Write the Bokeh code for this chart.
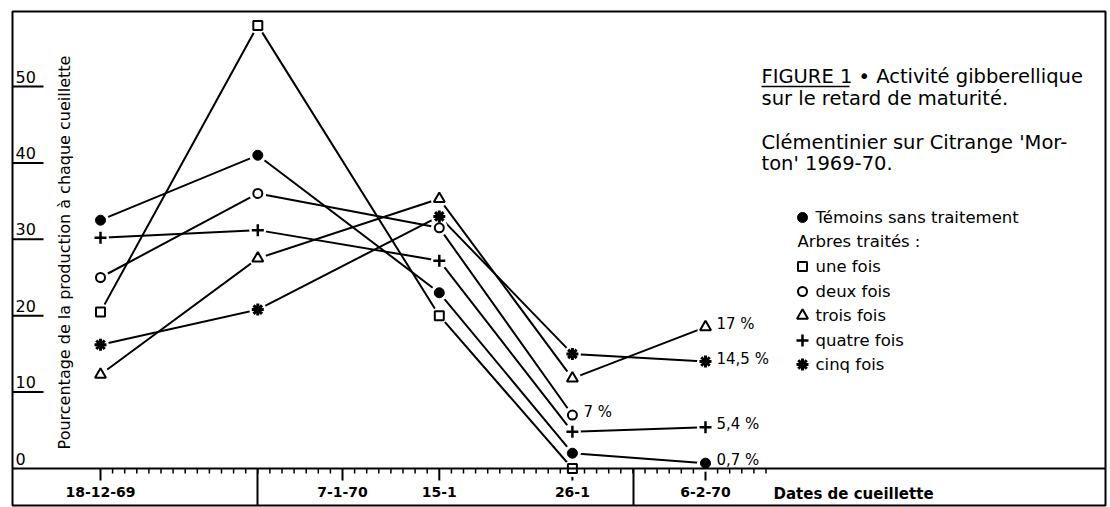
import math
from bokeh.plotting import figure
from bokeh.models import Span
from bokeh.core.properties import value
from bokeh.embed import file_html
from bokeh.resources import INLINE

# ---------------- data ----------------
pick_days = [0, 13, 28, 39, 50]          # days after 18-12-69
tick_days = [0, 20, 28, 39, 50]
tick_labels = ["18-12-69", "7-1-70", "15-1", "26-1", "6-2-70"]
y_ticks = [0, 10, 20, 30, 40, 50]
y_tick_labels = ["0", "10", "20", "30", "40", "50"]

temoins = [32.5, 41.0, 23.0, 2.0, 0.7]
une_fois = [20.5, 58.0, 20.0, 0.0]
deux_fois = [25.0, 36.0, 31.5, 7.0]
trois_fois = [12.3, 27.5, 35.3, 11.8, 18.5]
quatre_fois = [30.2, 31.2, 27.2, 4.8, 5.4]
cinq_fois = [16.2, 20.8, 33.0, 15.0, 14.0]

series_names = ["Témoins sans traitement", "une fois", "deux fois",
                "trois fois", "quatre fois", "cinq fois"]
end_labels = ["0,7 %", None, "7 %", "17 %", "5,4 %", "14,5 %"]

# ---------------- layout helpers (screen px -> data) ----------------
W, H = 1110, 507
L, R, T, B = 12, 1105, 11, 505
X0PX, PXD = 100.0, 12.1
Y0PX, PXU = 468.0, 7.64


def px2x(px):
    return (px - X0PX) / PXD


def px2y(py):
    return (Y0PX - py) / PXU


FONT = value("DejaVu Sans")

p = figure(width=W, height=H, title=None,
           x_range=(px2x(L), px2x(R)), y_range=(px2y(B), px2y(T)),
           x_axis_type=None, y_axis_type=None,
           toolbar_location=None, output_backend="svg",
           min_border_left=L, min_border_right=W - R,
           min_border_top=T, min_border_bottom=H - B)
p.outline_line_color = "black"
p.outline_line_width = 2
p.background_fill_color = "white"
p.border_fill_color = "white"

# ---------------- axes (hand drawn) ----------------
p.add_layout(Span(location=0, dimension="width", line_color="black", line_width=2))

# y ticks: short lines from the left edge, label above
yt = [v for v in y_ticks if v > 0]
p.ray(x=[px2x(L)] * len(yt), y=yt, length=31, length_units="screen", angle=0,
      line_color="black", line_width=2)
p.text(x=[px2x(15)] * len(y_ticks), y=y_ticks, text=y_tick_labels,
       text_font=FONT, text_font_size="16px", text_align="left",
       text_baseline="middle", y_offset=-10, text_color="black")

# x ticks
minor = [d for d in range(0, 56) if d not in tick_days]
p.ray(x=minor, y=[0] * len(minor), length=5, length_units="screen",
      angle=-math.pi / 2, line_color="black", line_width=1.5)
p.ray(x=tick_days, y=[0] * len(tick_days), length=12, length_units="screen",
      angle=-math.pi / 2, line_color="black", line_width=2)
p.text(x=tick_days, y=[0] * len(tick_days), text=tick_labels,
       text_font=FONT, text_font_size="14px", text_font_style="bold",
       text_align="center", text_baseline="middle", y_offset=23,
       text_color="black")
# separators of the date row
sep = [px2x(257), px2x(633)]
p.ray(x=sep, y=[0, 0], length=40, length_units="screen", angle=-math.pi / 2,
      line_color="black", line_width=2)
p.text(x=[px2x(773)], y=[0], text=["Dates de cueillette"], text_font=FONT,
       text_font_size="15px", text_font_style="bold", text_align="left",
       text_baseline="middle", y_offset=25, text_color="black")

# y axis title
p.text(x=[px2x(64)], y=[px2y(252)],
       text=["Pourcentage de la production à chaque cueillette"],
       angle=math.pi / 2, text_font=FONT, text_font_size="16px",
       text_align="center", text_baseline="middle", text_color="black")

# ---------------- series ----------------
all_series = [temoins, une_fois, deux_fois, trois_fois, quatre_fois, cinq_fois]


def draw_marker(i, xs, ys):
    if i == 0:
        p.scatter(xs, ys, marker="circle", size=10, fill_color="black", line_color="black")
    elif i == 1:
        p.scatter(xs, ys, marker="square", size=9, fill_color="white",
                  line_color="black", line_width=2)
    elif i == 2:
        p.scatter(xs, ys, marker="circle", size=9, fill_color="white",
                  line_color="black", line_width=2)
    elif i == 3:
        p.scatter(xs, ys, marker="triangle", size=11, fill_color="white",
                  line_color="black", line_width=2)
    elif i == 4:
        p.scatter(xs, ys, marker="cross", size=12, line_color="black", line_width=2.5)
    else:
        p.scatter(xs, ys, marker="asterisk", size=12, line_color="black", line_width=3)
        p.scatter(xs, ys, marker="circle", size=6, fill_color="black", line_color="black")


for vals in all_series:
    p.line(pick_days[:len(vals)], vals, line_color="black", line_width=2)
for vals in all_series:
    p.scatter(pick_days[:len(vals)], vals, marker="circle", size=17,
              fill_color="white", line_color=None)
for i, vals in enumerate(all_series):
    draw_marker(i, pick_days[:len(vals)], vals)

# end-of-line value labels
lx, ly, lt = [], [], []
for vals, lab in zip(all_series, end_labels):
    if lab:
        lx.append(pick_days[len(vals) - 1])
        ly.append(vals[-1])
        lt.append(lab)
p.text(x=lx, y=ly, text=lt, text_font=FONT, text_font_size="15px",
       text_align="left", text_baseline="middle", x_offset=11, y_offset=-3,
       text_color="black")

# ---------------- caption ----------------
cap_lines = ["FIGURE 1 • Activité gibberellique", "sur le retard de maturité.",
             "Clémentinier sur Citrange 'Mor-", "ton'  1969-70."]
cap_y = [76, 98, 142, 163]
p.text(x=[px2x(761)] * 4, y=[px2y(v) for v in cap_y], text=cap_lines,
       text_font=FONT, text_font_size="19.5px", text_align="left",
       text_baseline="middle", text_color="black")
p.segment(x0=[px2x(761)], y0=[px2y(86)], x1=[px2x(849)], y1=[px2y(86)],
          line_color="black", line_width=1.5)

# ---------------- legend ----------------
leg_y = [217, 266, 291, 315, 340, 364]
for i in range(6):
    draw_marker(i, [px2x(802)], [px2y(leg_y[i])])
p.text(x=[px2x(815)] * 6, y=[px2y(v) for v in leg_y], text=series_names,
       text_font=FONT, text_font_size="16.5px", text_align="left",
       text_baseline="middle", text_color="black")
p.text(x=[px2x(797)], y=[px2y(241)], text=["Arbres traités :"],
       text_font=FONT, text_font_size="16.5px", text_align="left",
       text_baseline="middle", text_color="black")

open("out.html", "w").write(file_html(p, INLINE))
